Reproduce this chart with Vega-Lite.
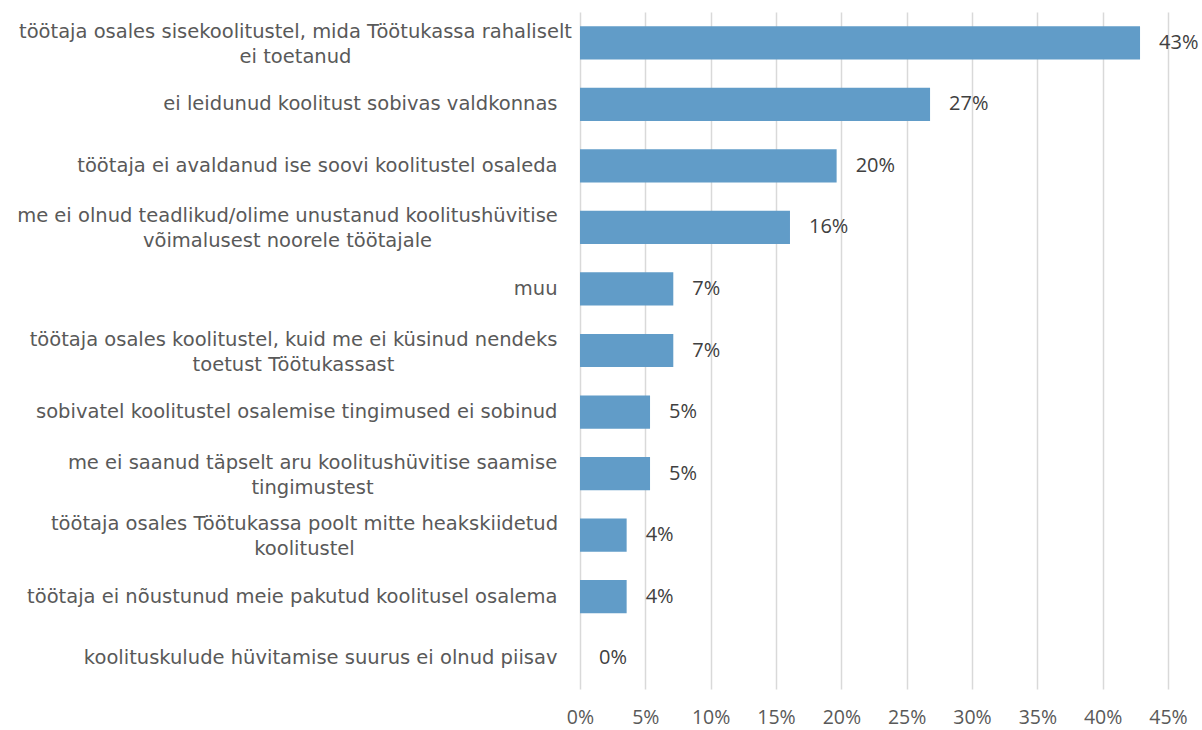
{
  "$schema": "https://vega.github.io/schema/vega-lite/v6.json",
  "autosize": "none",
  "width": 588,
  "height": 677,
  "padding": {"left": 580, "top": 12, "right": 34, "bottom": 41},
  "background": "white",
  "config": {
    "view": {"stroke": null},
    "font": "DejaVu Sans"
  },
  "data": {
    "values": [
      {"reason": "töötaja osales sisekoolitustel, mida Töötukassa rahaliselt|ei toetanud", "share": 0.4286},
      {"reason": "ei leidunud koolitust sobivas valdkonnas", "share": 0.2679},
      {"reason": "töötaja ei avaldanud ise soovi koolitustel osaleda", "share": 0.1964},
      {"reason": "me ei olnud teadlikud/olime unustanud koolitushüvitise|võimalusest noorele töötajale", "share": 0.1607},
      {"reason": "muu", "share": 0.0714},
      {"reason": "töötaja osales koolitustel, kuid me ei küsinud nendeks|toetust Töötukassast", "share": 0.0714},
      {"reason": "sobivatel koolitustel osalemise tingimused ei sobinud", "share": 0.0536},
      {"reason": "me ei saanud täpselt aru koolitushüvitise saamise|tingimustest", "share": 0.0536},
      {"reason": "töötaja osales Töötukassa poolt mitte heakskiidetud|koolitustel", "share": 0.0357},
      {"reason": "töötaja ei nõustunud meie pakutud koolitusel osalema", "share": 0.0357},
      {"reason": "koolituskulude hüvitamise suurus ei olnud piisav", "share": 0}
    ]
  },
  "encoding": {
    "y": {
      "field": "reason",
      "type": "nominal",
      "sort": null,
      "scale": {"paddingInner": 0.46, "paddingOuter": 0.23},
      "axis": {
        "title": null,
        "domain": false,
        "ticks": false,
        "labelExpr": "split(datum.label, '|')",
        "labelAlign": {"condition": {"test": "indexof(datum.value, '|') >= 0", "value": "center"}, "value": "right"},
        "labelBaseline": "middle",
        "labelOffset": {"condition": {"test": "indexof(datum.value, '|') >= 0", "value": -11}, "value": 0},
        "labelPadding": {
          "condition": [
            {"test": "indexof(datum.value, 'rahaliselt') >= 0", "value": 285},
            {"test": "indexof(datum.value, 'teadlikud') >= 0", "value": 293},
            {"test": "indexof(datum.value, 'nendeks') >= 0", "value": 287},
            {"test": "indexof(datum.value, 'täpselt') >= 0", "value": 268},
            {"test": "indexof(datum.value, 'heakskiidetud') >= 0", "value": 276}
          ],
          "value": 23
        },
        "labelFontSize": 19.5,
        "labelLineHeight": 25,
        "labelColor": "#595959",
        "labelLimit": 800
      }
    },
    "x": {
      "field": "share",
      "type": "quantitative",
      "scale": {"domain": [0, 0.45], "nice": false},
      "axis": {
        "title": null,
        "values": [0, 0.05, 0.1, 0.15, 0.2, 0.25, 0.3, 0.35, 0.4, 0.45],
        "format": ".0%",
        "domain": false,
        "ticks": false,
        "grid": true,
        "gridColor": "#d9d9d9",
        "gridWidth": 1.5,
        "labelPadding": 19,
        "labelFont": "Open Sans",
        "labelFontSize": 19.5,
        "labelColor": "#595959",
        "labelFlush": false
      }
    }
  },
  "layer": [
    {"mark": {"type": "bar", "color": "#619cc8"}},
    {
      "mark": {"type": "text", "align": "left", "dx": 19, "font": "Open Sans", "fontSize": 20, "color": "#404040"},
      "encoding": {"text": {"field": "share", "type": "quantitative", "format": ".0%"}}
    }
  ]
}
